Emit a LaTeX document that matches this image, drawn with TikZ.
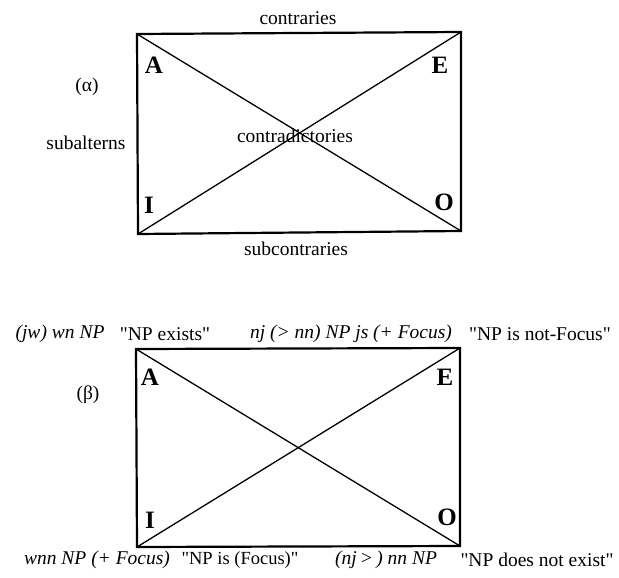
\documentclass[tikz,border=0pt]{standalone}
\usepackage{fontspec}
\setmainfont{Liberation Serif}[Ligatures=TeXOff]
\begin{document}
\begin{tikzpicture}[x=1pt,y=-1pt,
  boxline/.style={line width=2.2pt,line join=miter},
  diag/.style={line width=1.3pt},
  corner/.style={font=\fontsize{25}{28}\selectfont\bfseries,inner sep=0pt},
  lbl/.style={font=\fontsize{19.5}{22}\selectfont,inner sep=0pt},
  gl/.style={font=\fontsize{19.5}{23}\selectfont,inner sep=0pt}]
\useasboundingbox (0,0) rectangle (619,578);
% top square
\coordinate (tA) at (137,34);
\coordinate (tE) at (461,32);
\coordinate (tI) at (138,234);
\coordinate (tO) at (461,231);
\draw[boxline] (tA) -- (tE) -- (tO) -- (tI) -- cycle;
\draw[diag] (tA) -- (tO);
\draw[diag] (tI) -- (tE);
\node[corner] (ltA) at (154,65) {A};
\node[corner] (ltE) at (440,65) {E};
\node[corner] (ltI) at (149,205) {I};
\node[corner] (ltO) at (444,202) {O};
\node[lbl] (contr) at (298,18) {contraries};
\node[lbl] (alpha) at (87,87) {(α)};
\node[lbl] (subalt) at (86,143) {subalterns};
\node[lbl] (contrad) at (295,136) {contradictories};
\node[lbl] (subc) at (296,249) {subcontraries};
% bottom square
\coordinate (bA) at (136,349);
\coordinate (bE) at (460,348);
\coordinate (bI) at (137,547);
\coordinate (bO) at (460,546);
\draw[boxline] (bA) -- (bE) -- (bO) -- (bI) -- cycle;
\draw[diag] (bA) -- (bO);
\draw[diag] (bI) -- (bE);
\node[corner] (lbA) at (150,377) {A};
\node[corner] (lbE) at (445,377) {E};
\node[corner] (lbI) at (150,520) {I};
\node[corner] (lbO) at (447,517) {O};
\node[lbl] (beta) at (88,395) {(β)};
\node[gl] (g1) at (60,334) {\itshape (jw) wn NP};
\node[gl] (g2) at (165,334) {"NP exists"};
\node[gl] (g3) at (351,334) {\itshape nj (> nn) NP js (+ Focus)};
\node[gl] (g4) at (540,334) {"NP is not-Focus"};
\node[gl] (g5) at (97,560) {\itshape wnn NP (+ Focus)};
\node[gl,font=\fontsize{18.5}{22}\selectfont] (g6) at (240,560) {"NP is (Focus)"};
\node[gl] (g7) at (386,560) {\itshape (nj\,>\,) nn NP};
\node[gl] (g8) at (537,560) {"NP does not exist"};
\end{tikzpicture}
\end{document}
